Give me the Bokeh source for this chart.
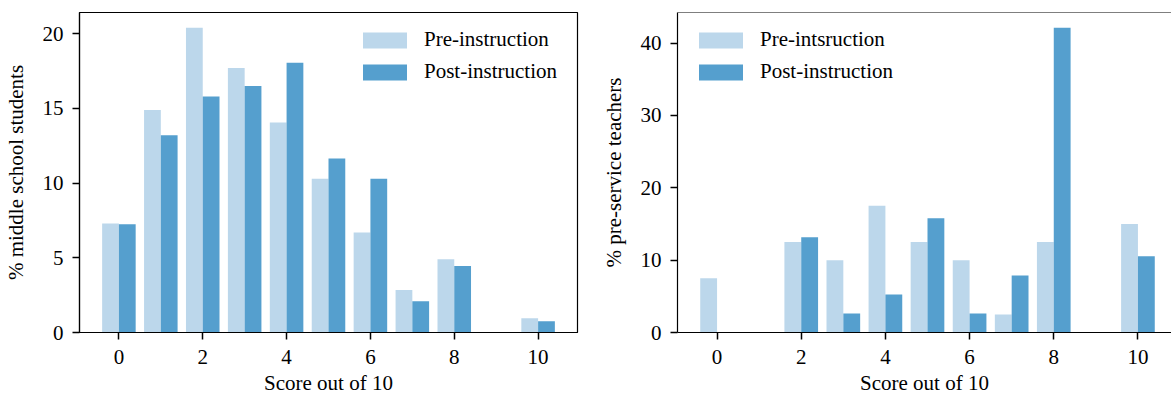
from bokeh.plotting import figure
from bokeh.layouts import row
from bokeh.models import (ColumnDataSource, FixedTicker, Legend, LegendItem,
                          Range1d, Span)
from bokeh.transform import dodge
from bokeh.embed import file_html
from bokeh.resources import INLINE

# ---------------- data ----------------
scores = [0, 1, 2, 3, 4, 5, 6, 7, 8, 9, 10]
students_pre = [7.3, 14.9, 20.4, 17.7, 14.05, 10.3, 6.7, 2.85, 4.9, 0.0, 0.95]
students_post = [7.25, 13.2, 15.8, 16.5, 18.05, 11.65, 10.3, 2.1, 4.45, 0.0, 0.75]
teachers_pre = [7.5, 0.0, 12.5, 10.0, 17.5, 12.5, 10.0, 2.5, 12.5, 0.0, 15.0]
teachers_post = [0.0, 0.0, 13.16, 2.63, 5.26, 15.79, 2.63, 7.89, 42.11, 0.0, 10.53]

x_ticks = [0, 2, 4, 6, 8, 10]
students_y_ticks = [0, 5, 10, 15, 20]
teachers_y_ticks = [0, 10, 20, 30, 40]

x_label = "Score out of 10"
students_y_label = "% middle school students"
teachers_y_label = "% pre-service teachers"
students_legend = ["Pre-instruction", "Post-instruction"]
teachers_legend = ["Pre-intsruction", "Post-instruction"]

# ---------------- style ----------------
PRE = "#bcd7eb"
POST = "#559fce"
FONT = "Liberation Serif"
FS = "21px"
BAR_W = 0.4
X_START = -0.94
X_END = 10.94
PX_PER_UNIT = 500 / (X_END - X_START)


def make_fig(width, border_left, border_right, frame_w, pre, post, yticks, ylabel,
             legend_labels, legend_x, outline):
    src = ColumnDataSource(dict(score=scores, pre=pre, post=post))
    ymax = max(pre + post) * 1.05
    x_end = X_START + frame_w / PX_PER_UNIT
    p = figure(width=width, height=397, output_backend="svg", toolbar_location=None,
               x_range=Range1d(X_START, x_end), y_range=Range1d(0, ymax),
               min_border_left=border_left, min_border_right=border_right,
               min_border_top=12, min_border_bottom=65)
    p.background_fill_color = "white"
    p.border_fill_color = "white"
    p.grid.visible = False
    if outline:
        p.outline_line_color = "black"
        p.outline_line_width = 1.2
    else:
        p.outline_line_color = None
        p.add_layout(Span(location=ymax, dimension="width", line_color="black",
                          line_width=1.2))

    r_pre = p.vbar(x=dodge("score", -BAR_W / 2, range=p.x_range), top="pre",
                   width=BAR_W, source=src, fill_color=PRE, line_color=None)
    r_post = p.vbar(x=dodge("score", BAR_W / 2, range=p.x_range), top="post",
                    width=BAR_W, source=src, fill_color=POST, line_color=None)

    for ax in (p.xaxis[0], p.yaxis[0]):
        ax.axis_line_color = "black"
        ax.axis_line_width = 1.2
        ax.major_tick_line_color = "black"
        ax.major_tick_line_width = 1.5
        ax.major_tick_out = 7
        ax.major_tick_in = 0
        ax.minor_tick_line_color = None
        ax.major_label_text_font = FONT
        ax.major_label_text_font_size = FS
        ax.major_label_text_color = "black"
        ax.axis_label_text_font = FONT
        ax.axis_label_text_font_size = FS
        ax.axis_label_text_font_style = "normal"
        ax.axis_label_text_color = "black"

    p.xaxis.ticker = FixedTicker(ticks=x_ticks)
    p.xaxis.major_label_standoff = 10
    p.xaxis.axis_label = x_label
    p.xaxis.axis_label_standoff = 4
    p.yaxis.ticker = FixedTicker(ticks=yticks)
    p.yaxis.major_label_standoff = 9
    p.yaxis.axis_label = ylabel
    p.yaxis.axis_label_standoff = 12

    # legend glyphs are drawn with a 10% inset, so the box is 55x20 for a 44x16 patch
    legend = Legend(items=[LegendItem(label=legend_labels[0], renderers=[r_pre]),
                           LegendItem(label=legend_labels[1], renderers=[r_post])],
                    location=(legend_x, 248), glyph_width=55, glyph_height=20,
                    label_standoff=12, spacing=7, padding=0, margin=0,
                    border_line_color=None, background_fill_alpha=0,
                    label_text_font=FONT, label_text_font_size=FS,
                    label_text_color="black")
    p.add_layout(legend)
    return p


p1 = make_fig(588, 77, 11, 500, students_pre, students_post, students_y_ticks,
              students_y_label, students_legend, 278, True)
p2 = make_fig(583, 89, 0, 494, teachers_pre, teachers_post, teachers_y_ticks,
              teachers_y_label, teachers_legend, 16, False)

layout = row(p1, p2)
open("out.html", "w").write(file_html(layout, INLINE))
